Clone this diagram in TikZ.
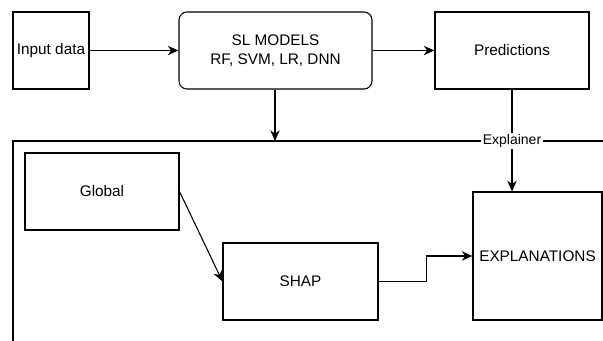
\documentclass[tikz,border=0pt]{standalone}
\usepackage{fontspec}
\setmainfont{Liberation Sans}
\usetikzlibrary{arrows.meta}
\tikzset{
  box/.style={draw,thick,fill=white,inner sep=0pt,font=\fontsize{11.5}{14}\selectfont,align=center},
  flow/.style={thick,-{Stealth[length=8pt,width=7pt,inset=2.5pt]}}
}
\begin{document}
\begin{tikzpicture}[x=0.75pt,y=-0.75pt]
\useasboundingbox (0,0) rectangle (603,341);

% top row: data, models, predictions
\node[box,minimum width=57pt,minimum height=57.75pt] (input) at (51,50.5) {Input data};
\node[box,rounded corners=6pt,minimum width=144.75pt,minimum height=57.75pt] (models) at (275.5,50.5) {SL MODELS\\RF, SVM, LR, DNN};
\node[box,minimum width=115.5pt,minimum height=57.75pt] (pred) at (512,50.5) {Predictions};

% explainer frame, cut by the page edges
\coordinate (frametop) at (275,141);
\draw[thick] (13,341) -- (13,141) -- (603,141);

% inside the explainer
\node[box,minimum width=115.5pt,minimum height=57.75pt] (global) at (102,191.5) {Global};
\node[box,minimum width=116.25pt,minimum height=57.75pt] (shap) at (300.5,281.5) {SHAP};
\node[box,minimum width=96.75pt,minimum height=96pt] (expl) at (537.5,256) {EXPLANATIONS};

\draw[flow] (input) -- (models);
\draw[flow] (models) -- (pred);
\draw[flow] (models.south -| frametop) -- (frametop);
\draw[flow] (pred.south) -- (pred.south |- expl.north);
\draw[flow] (global.east) -- (shap.west);
\draw[flow] (shap.east) -- ++(48,0) |- (expl.west);

% frame label sits over the lines
\node[fill=white,inner sep=1pt,font=\fontsize{10.5}{12}\selectfont] (explainer) at (512,141) {Explainer};
\end{tikzpicture}
\end{document}
